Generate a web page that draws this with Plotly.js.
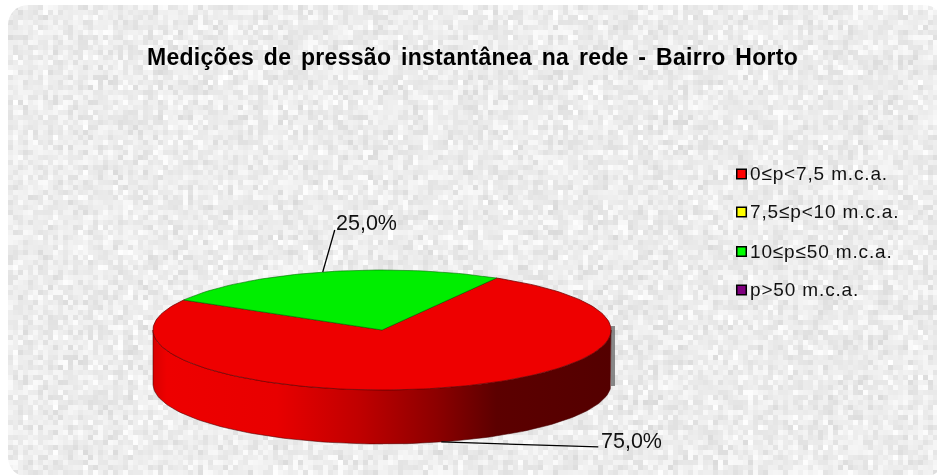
<!DOCTYPE html>
<html><head><meta charset="utf-8">
<script src="https://cdn.plot.ly/plotly-3.0.1.min.js"></script>
<style>
html,body{margin:0;padding:0;background:#fff;overflow:hidden}
#bg{position:absolute;left:0;top:0}
#chart{position:absolute;left:0;top:0;width:937px;height:475px}
#chart .textpoint text{letter-spacing:0.85px}
#chart .gtitle{letter-spacing:0.3px;word-spacing:3px}
</style></head><body>
<canvas id="bg" width="937" height="475"></canvas>
<div id="chart"></div>
<script>
const categories = ["0≤p<7,5 m.c.a.", "7,5≤p<10 m.c.a.", "10≤p≤50 m.c.a.", "p>50 m.c.a."];
const values = [75, 0, 25, 0];
const sliceColors = ["#ee0000", "#ffff00", "#00ee00", "#800080"];
const legendColors = ["#ff0000", "#ffff00", "#00ff00", "#800080"];
const titleText = "Medições de pressão instantânea na rede - Bairro Horto";

// texture behind the chart (decorative, not data)
(function(){
  const c = document.getElementById('bg').getContext('2d');
  c.fillStyle = '#fff'; c.fillRect(0,0,937,475);
  c.save();
  c.beginPath();
  c.roundRect(8,5,936,472,20);
  c.clip();
  let s = 12345;
  const next = () => (s = (s*1103515245 + 12345) & 0x7fffffff) / 0x7fffffff;
  const B = 5;
  for (let y=0;y<475;y+=B) for (let x=3;x<937;x+=B){
    for(let k=0;k<3;k++) next();
    const r = (next()+next())/2;
    const g = Math.round(218 + r*38);
    c.fillStyle = `rgb(${g},${g},${g})`;
    c.fillRect(x,y,B,B);
  }
  c.restore();
})();

const cx=382, cy=330, rx=229, ry=60, depth=54, startDeg=60;
const total = values.reduce((a,b)=>a+b,0);
const pt = (deg,dy=0)=>[cx+rx*Math.cos(deg*Math.PI/180), cy-ry*Math.sin(deg*Math.PI/180)+dy];
function arc(a0,a1,dy=0){ const o=[]; const n=Math.max(2,Math.ceil(Math.abs(a1-a0)/1.5));
  for(let i=0;i<=n;i++) o.push(pt(a0+(a1-a0)*i/n,dy)); return o; }

const traces=[];
const front = arc(180,360), back = arc(360,180,depth);
const wall = front.concat(back); wall.push(wall[0]);
traces.push({type:'scatter',mode:'lines',x:wall.map(p=>p[0]),y:wall.map(p=>p[1]),fill:'toself',
  line:{color:'rgba(70,0,0,0.55)',width:1},hoverinfo:'skip',showlegend:false,
  fillgradient:{type:'horizontal',start:cx-rx,stop:cx+rx,colorscale:[
    [0,'#d80000'],[0.03,'#ee0000'],[0.27,'#e80000'],[0.45,'#c00000'],[0.62,'#8c0000'],[0.75,'#5c0000'],[1,'#540000']]}});

let ang = startDeg; const mids=[];
values.forEach((v,i)=>{
  const sweep = v/total*360, a1 = ang-sweep;
  mids.push(ang-sweep/2);
  if(v>0){
    const p=[[cx,cy]].concat(arc(ang,a1)); p.push([cx,cy]);
    traces.push({type:'scatter',mode:'lines',x:p.map(q=>q[0]),y:p.map(q=>q[1]),fill:'toself',fillcolor:sliceColors[i],
      line:{color:i==0?'rgba(110,0,0,0.75)':'rgba(0,110,0,0.6)',width:1},name:categories[i],showlegend:false,hoverinfo:'name'});
  }
  ang=a1;
});

const annotations=[];
values.forEach((v,i)=>{
  if(!v) return;
  const frontSide = Math.sin(mids[i]*Math.PI/180)<0;
  const a = pt(mids[i], frontSide?depth:0);
  const b = frontSide?[a[0]+157,a[1]+5]:[a[0]+12,a[1]-42];
  traces.push({type:'scatter',mode:'lines',x:[a[0],b[0]],y:[a[1],b[1]],line:{color:'#000',width:1.3},hoverinfo:'skip',showlegend:false});
  annotations.push({x:frontSide?b[0]+33:b[0]+32,y:frontSide?b[1]-6:b[1]-7,xref:'x',yref:'y',showarrow:false,
    text:(v/total*100).toFixed(1).replace('.',',')+'%',font:{family:'Liberation Sans',size:21.5,color:'#111'}});
});

const legY=[174,212,251.5,290];
categories.forEach((n,i)=>{
  traces.push({type:'scatter',mode:'markers',x:[741.5],y:[legY[i]],cliponaxis:false,
    marker:{symbol:'square',size:9.5,color:legendColors[i],line:{color:'#000',width:1.5}},name:n,showlegend:false,hoverinfo:'name'});
  traces.push({type:'scatter',mode:'text',x:[750],y:[legY[i]+1.5],text:[n],textposition:'middle right',
    textfont:{family:'Liberation Sans',size:19,color:'#111'},cliponaxis:false,showlegend:false,hoverinfo:'skip'});
});

Plotly.newPlot('chart',traces,{
  width:937,height:475,margin:{l:0,r:0,t:0,b:0},paper_bgcolor:'rgba(0,0,0,0)',plot_bgcolor:'rgba(0,0,0,0)',
  title:{text:'<b>'+titleText+'</b>',x:472.5/937,xanchor:'center',y:1-57/475,yanchor:'middle',font:{family:'Liberation Sans',size:23,color:'#000'}},
  xaxis:{range:[0,937],visible:false,fixedrange:true},
  yaxis:{range:[475,0],visible:false,fixedrange:true},
  annotations:annotations,
  shapes:[{type:'rect',xref:'x',yref:'y',x0:611,x1:615,y0:326,y1:386,fillcolor:'rgba(110,110,110,0.8)',line:{width:0},layer:'below'}],
  showlegend:false
},{staticPlot:true});
</script></body></html>
